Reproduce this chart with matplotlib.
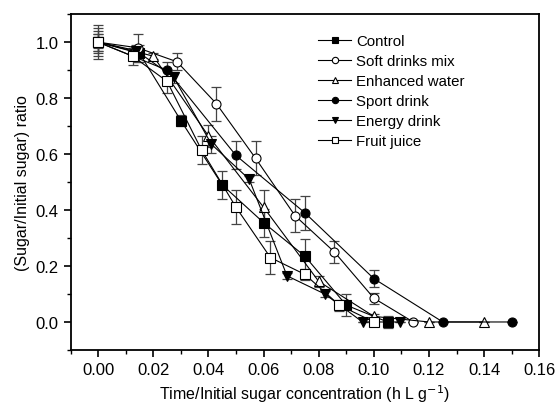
import matplotlib
matplotlib.use("Agg")
import matplotlib.pyplot as plt
from matplotlib.ticker import MultipleLocator

plt.rcParams['font.family'] = ['Liberation Sans', 'DejaVu Sans']

# data
control_x = [0, 0.015, 0.030, 0.045, 0.060, 0.075, 0.090, 0.105]
control_y = [1.0, 0.96, 0.72, 0.49, 0.355, 0.235, 0.06, 0.0]
control_err = [0.04, 0.03, 0.02, 0.05, 0.05, 0.06, 0.04, 0.02]

soft_x = [0, 0.0143, 0.0286, 0.0429, 0.0571, 0.0714, 0.0857, 0.100, 0.1143]
soft_y = [1.0, 0.98, 0.93, 0.78, 0.585, 0.38, 0.25, 0.085, 0.0]
soft_err = [0.06, 0.05, 0.03, 0.06, 0.06, 0.06, 0.04, 0.02, 0.0]

water_x = [0, 0.02, 0.04, 0.06, 0.08, 0.10, 0.12, 0.14]
water_y = [1.0, 0.95, 0.665, 0.41, 0.145, 0.02, 0.0, 0.0]
water_err = [0.03, 0.01, 0.04, 0.06, 0.02, 0.01, 0.0, 0.0]

sport_x = [0, 0.025, 0.050, 0.075, 0.100, 0.125, 0.150]
sport_y = [1.0, 0.90, 0.595, 0.39, 0.155, 0.0, 0.0]
sport_err = [0.05, 0.03, 0.05, 0.06, 0.03, 0.0, 0.0]

energy_x = [0, 0.0137, 0.0274, 0.0411, 0.0548, 0.0685, 0.0822, 0.0959, 0.1096]
energy_y = [1.0, 0.97, 0.875, 0.635, 0.51, 0.165, 0.10, 0.0, 0.0]
energy_err = [0.02, 0.02, 0.02, 0.03, 0.01, 0.01, 0.01, 0.0, 0.0]

fruit_x = [0, 0.0125, 0.025, 0.0375, 0.050, 0.0625, 0.075, 0.0875, 0.100]
fruit_y = [1.0, 0.95, 0.86, 0.615, 0.41, 0.23, 0.17, 0.06, 0.0]
fruit_err = [0.03, 0.03, 0.04, 0.05, 0.06, 0.06, 0.02, 0.02, 0.01]

series = [
    ("Control", control_x, control_y, control_err, 's', 'black'),
    ("Soft drinks mix", soft_x, soft_y, soft_err, 'o', 'white'),
    ("Enhanced water", water_x, water_y, water_err, '^', 'white'),
    ("Sport drink", sport_x, sport_y, sport_err, 'o', 'black'),
    ("Energy drink", energy_x, energy_y, energy_err, 'v', 'black'),
    ("Fruit juice", fruit_x, fruit_y, fruit_err, 's', 'white'),
]

fig = plt.figure(figsize=(5.6, 4.1), dpi=100)
ax = fig.add_axes([0.126, 0.144, 0.837, 0.819])

for name, x, y, err, mk, fc in series:
    ax.errorbar(x, y, yerr=err, fmt='none', ecolor='#444444', elinewidth=0.9,
                capsize=3.5, capthick=0.9, zorder=2)
    ax.plot(x, y, color='black', lw=0.8, marker=mk, markersize=6.5,
            markerfacecolor=fc, markeredgecolor='black', markeredgewidth=0.8,
            label=name, zorder=3)

ax.set_xlim(-0.01, 0.16)
ax.set_ylim(-0.1, 1.1)
ax.xaxis.set_minor_locator(MultipleLocator(0.01))
ax.yaxis.set_minor_locator(MultipleLocator(0.1))
ax.set_xticks([0, 0.02, 0.04, 0.06, 0.08, 0.10, 0.12, 0.14, 0.16])
ax.set_xticklabels(['0.00', '0.02', '0.04', '0.06', '0.08', '0.10', '0.12', '0.14', '0.16'])
ax.set_yticks([0, 0.2, 0.4, 0.6, 0.8, 1.0])
ax.set_yticklabels(['0.0', '0.2', '0.4', '0.6', '0.8', '1.0'])
ax.tick_params(which='major', direction='out', length=5, width=1.2, labelsize=12)
ax.tick_params(which='minor', direction='out', length=3, width=1.0)
for s in ax.spines.values():
    s.set_linewidth(1.3)

ax.set_xlabel("Time/Initial sugar concentration (h L g$^{-1}$)", fontsize=11.5)
ax.set_ylabel("(Sugar/Initial sugar) ratio", fontsize=11.5)

ax.legend(loc='upper left', bbox_to_anchor=(0.5, 0.98), frameon=False,
          fontsize=10.8, markerscale=0.7, handlelength=2.2, labelspacing=0.4,
          handletextpad=0.3)

fig.savefig("out.png", dpi=100)
